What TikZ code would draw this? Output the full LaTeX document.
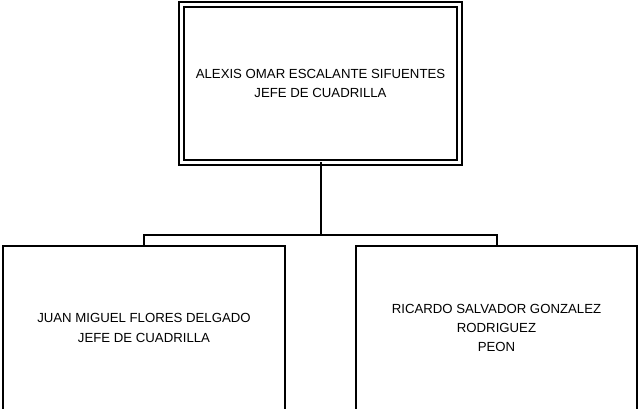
\documentclass[tikz,border=0pt]{standalone}
\usepackage{fontspec}
\setmainfont{Liberation Sans}
\begin{document}
\begin{tikzpicture}[x=1pt,y=-1pt,
  every node/.style={inner sep=0pt,outer sep=0pt,align=center,
    font=\fontsize{13.2pt}{19.4pt}\selectfont},
  bossbox/.style={draw,double,line width=1.5pt,double distance=3.4pt,
    minimum width=278pt,minimum height=158pt},
  staffbox/.style={draw,line width=2pt,minimum width=282pt,minimum height=164pt},
  link/.style={line width=2pt}]
\useasboundingbox (0,0) rectangle (638,409);
\node[bossbox] (boss) at (320.5,83.5) {ALEXIS OMAR ESCALANTE SIFUENTES\\JEFE DE CUADRILLA};
\node[staffbox] (juan) at (144,328) {JUAN MIGUEL FLORES DELGADO\\JEFE DE CUADRILLA};
\node[staffbox,minimum width=281pt] (ricardo) at (496.5,328) {RICARDO SALVADOR GONZALEZ\\RODRIGUEZ\\PEON};
\coordinate (hub) at (321,235);
\draw[link] (boss.south -| hub) -- (hub);
\draw[link] (juan.north) -- (juan.north |- hub) -- (ricardo.north |- hub) -- (ricardo.north);
\end{tikzpicture}
\end{document}
